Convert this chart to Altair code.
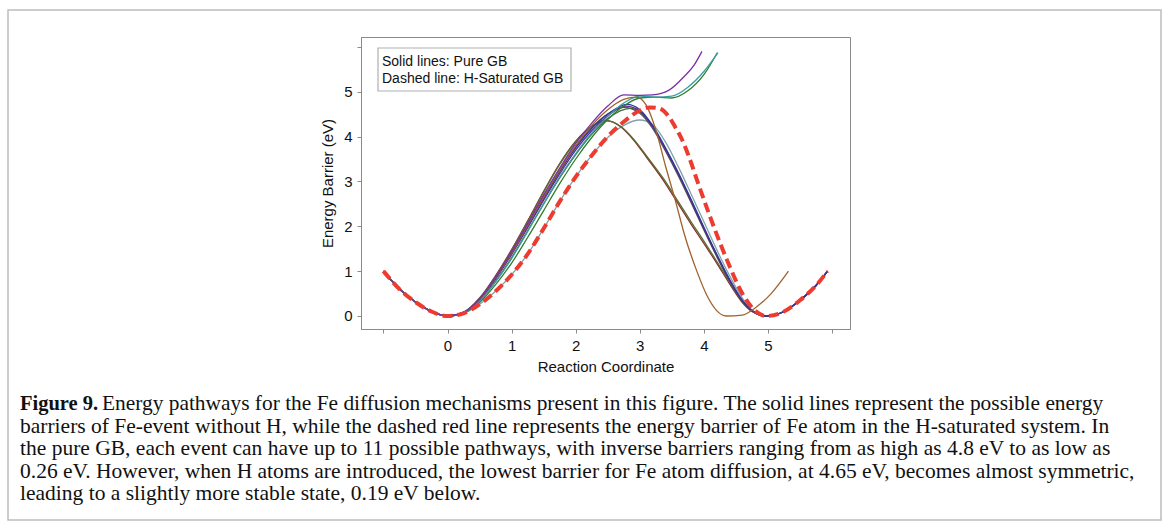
import altair as alt
import pandas as pd

# ---------------- data ----------------
LEFT_X = [-1.0, -0.75, -0.5, -0.25, 0.0]
LEFT_Y = [1.0, 0.6, 0.31, 0.1, 0.0]
RIGHT_X = [5.25, 5.5, 5.75, 5.93]
RIGHT_Y = [0.1, 0.35, 0.68, 1.0]

RISE_X = [0.25, 0.5, 0.75, 1.0, 1.25, 1.5, 1.75, 2.0, 2.25, 2.5]

purple_x = RISE_X + [2.75, 3.0, 3.2, 3.45, 3.7, 3.85, 3.97]
purple_y = [0.08, 0.38, 0.86, 1.43, 2.06, 2.7, 3.3, 3.85, 4.3, 4.68, 4.93, 4.92, 4.93, 5.03, 5.35, 5.6, 5.9]

teal_x = RISE_X + [2.75, 3.0, 3.25, 3.5, 3.75, 4.0, 4.22]
teal_y = [0.07, 0.33, 0.76, 1.28, 1.88, 2.5, 3.1, 3.62, 4.08, 4.45, 4.75, 4.9, 4.88, 4.9, 5.1, 5.45, 5.87]

green_x = RISE_X + [2.75, 3.0, 3.25, 3.5, 3.75, 4.0, 4.21]
green_y = [0.06, 0.3, 0.7, 1.18, 1.75, 2.35, 2.95, 3.5, 3.98, 4.38, 4.68, 4.86, 4.88, 4.86, 5.02, 5.38, 5.87]

brown_x = RISE_X + [2.75, 2.95, 3.1, 3.25, 3.4, 3.55, 3.7, 3.89, 4.05, 4.2, 4.35, 4.6, 4.8, 5.05, 5.32]
brown_y = [0.08, 0.37, 0.85, 1.4, 2.02, 2.65, 3.25, 3.8, 4.25, 4.6, 4.83, 4.88, 4.7, 4.15, 3.35, 2.6, 1.8, 1.0, 0.45, 0.12, 0.0, 0.02, 0.18, 0.5, 1.0]

DROP_X = [3.0, 3.2, 3.4, 3.6, 3.8, 4.0, 4.2, 4.4, 4.6, 4.75, 4.97]

navy_x = RISE_X + [2.8] + DROP_X
navy_y = [0.08, 0.37, 0.84, 1.4, 2.0, 2.62, 3.22, 3.75, 4.18, 4.5, 4.72, 4.6, 4.25, 3.75, 3.2, 2.6, 1.98, 1.38, 0.82, 0.35, 0.12, 0.0]

indigo_x = RISE_X + [2.78] + DROP_X
indigo_y = [0.08, 0.36, 0.82, 1.37, 1.97, 2.58, 3.17, 3.7, 4.13, 4.46, 4.68, 4.57, 4.22, 3.72, 3.17, 2.57, 1.95, 1.35, 0.8, 0.34, 0.12, 0.0]

gray_x = RISE_X + [2.75] + DROP_X
gray_y = [0.08, 0.37, 0.85, 1.42, 2.03, 2.66, 3.26, 3.78, 4.2, 4.5, 4.65, 4.52, 4.18, 3.68, 3.13, 2.53, 1.92, 1.33, 0.78, 0.33, 0.11, 0.0]

dkgreen_x = RISE_X + [2.85] + DROP_X
dkgreen_y = [0.07, 0.33, 0.77, 1.3, 1.9, 2.5, 3.08, 3.6, 4.05, 4.4, 4.63, 4.55, 4.22, 3.73, 3.18, 2.58, 1.96, 1.36, 0.8, 0.34, 0.12, 0.0]

steel_x = RISE_X + [2.75] + DROP_X
steel_y = [0.06, 0.26, 0.55, 0.92, 1.38, 1.95, 2.55, 3.1, 3.58, 3.98, 4.25, 4.37, 4.27, 3.88, 3.33, 2.72, 2.1, 1.48, 0.9, 0.4, 0.13, 0.0]

darkred_x = [0.25, 0.5, 0.75, 1.0, 1.25, 1.5, 1.75, 2.0, 2.25, 2.47, 2.7, 2.9, 3.1, 3.37, 3.6, 3.8, 4.0, 4.2, 4.4, 4.6, 4.75, 4.97]
darkred_y = [0.08, 0.4, 0.9, 1.48, 2.12, 2.78, 3.4, 3.9, 4.23, 4.36, 4.22, 3.93, 3.55, 3.02, 2.5, 2.05, 1.62, 1.18, 0.72, 0.3, 0.1, 0.0]

olive_x = darkred_x
olive_y = [0.08, 0.39, 0.88, 1.46, 2.1, 2.76, 3.38, 3.88, 4.22, 4.35, 4.23, 3.95, 3.58, 3.06, 2.55, 2.1, 1.67, 1.22, 0.76, 0.33, 0.11, 0.0]

dashed_x = [0.25, 0.5, 0.75, 1.0, 1.25, 1.5, 1.75, 2.0, 2.25, 2.5, 2.75, 3.0, 3.15, 3.3, 3.45, 3.55, 3.66, 3.78, 3.89, 4.1, 4.38, 4.6, 4.8, 4.97]
dashed_y = [0.06, 0.26, 0.55, 0.92, 1.38, 1.95, 2.55, 3.1, 3.58, 4.0, 4.33, 4.58, 4.65, 4.63, 4.45, 4.22, 3.93, 3.5, 3.04, 2.2, 1.18, 0.5, 0.12, 0.0]

CURVE_NAMES = ["steel", "darkred", "olive", "gray", "dkgreen", "indigo", "navy", "green", "teal", "brown", "purple"]
CURVE_COLORS = ["#7fa3ad", "#8b2f2f", "#58702e", "#555555", "#3e6b3e", "#5b2c8c", "#35359a", "#2f7f2f", "#3a9ea5", "#a0622d", "#7a2fa8"]
DASH_COLOR = "#ee3b2f"

LEGEND_LINES = ["Solid lines: Pure GB", "Dashed line: H-Saturated GB"]

X_TICKS = [-1, 0, 1, 2, 3, 4, 5, 6]
Y_TICKS = [0, 1, 2, 3, 4, 5, 6]

CAP_BOLD = "Figure 9."
CAP_LINE1 = "Energy pathways for the Fe diffusion mechanisms present in this figure. The solid lines represent the possible energy"
CAP_REST = ("barriers of Fe-event without H, while the dashed red line represents the energy barrier of Fe atom in the H-saturated system. In\n"
            "the pure GB, each event can have up to 11 possible pathways, with inverse barriers ranging from as high as 4.8 eV to as low as\n"
            "0.26 eV. However, when H atoms are introduced, the lowest barrier for Fe atom diffusion, at 4.65 eV, becomes almost symmetric,\n"
            "leading to a slightly more stable state, 0.19 eV below.")

# ---------------- build tables ----------------
series = {
    "steel": (steel_x, steel_y, True), "darkred": (darkred_x, darkred_y, True),
    "olive": (olive_x, olive_y, True), "gray": (gray_x, gray_y, True),
    "dkgreen": (dkgreen_x, dkgreen_y, True), "indigo": (indigo_x, indigo_y, True),
    "navy": (navy_x, navy_y, True), "green": (green_x, green_y, False),
    "teal": (teal_x, teal_y, False), "brown": (brown_x, brown_y, False),
    "purple": (purple_x, purple_y, False),
}
rows = []
for name in CURVE_NAMES:
    xs, ys, right = series[name]
    X = LEFT_X + xs + (RIGHT_X if right else [])
    Y = LEFT_Y + ys + (RIGHT_Y if right else [])
    for a, b in zip(X, Y):
        rows.append({"curve": name, "x": a, "y": b})
df_solid = pd.DataFrame(rows)
DX = LEFT_X + dashed_x + RIGHT_X
DY = LEFT_Y + dashed_y + RIGHT_Y
df_dash = pd.DataFrame({"x": DX, "y": DY})

SANS = "Liberation Sans"
SERIF = "Liberation Serif"

xscale = alt.Scale(domain=[-1.35, 6.28], nice=False, zero=False)
yscale = alt.Scale(domain=[-0.29, 6.22], nice=False, zero=False)
xaxis = alt.Axis(values=X_TICKS, format="d",
                 labelExpr="datum.value >= 0 && datum.value <= 5 ? datum.label : ''",
                 title="Reaction Coordinate", grid=False, tickSize=4, labelPadding=5, titlePadding=6)
yaxis = alt.Axis(values=Y_TICKS, format="d", labelExpr="datum.value <= 5 ? datum.label : ''",
                 title="Energy Barrier (eV)", grid=False, tickSize=4, labelPadding=5, titlePadding=8)

solid = alt.Chart(df_solid).mark_line(strokeWidth=1.3, interpolate="monotone").encode(
    x=alt.X("x:Q", scale=xscale, axis=xaxis),
    y=alt.Y("y:Q", scale=yscale, axis=yaxis),
    color=alt.Color("curve:N", scale=alt.Scale(domain=CURVE_NAMES, range=CURVE_COLORS), legend=None),
    detail="curve:N",
)
dashed = alt.Chart(df_dash).mark_line(strokeWidth=4, interpolate="monotone", color=DASH_COLOR,
                                      strokeDash=[10, 5]).encode(x="x:Q", y="y:Q")

one = alt.Data(values=[{"t": 0}])
border = alt.Chart(one).mark_rect(fill="transparent", stroke="#bdbdbd", strokeWidth=1.5).encode(
    x=alt.value(-353), x2=alt.value(800), y=alt.value(-27), y2=alt.value(483))

# legend box (annotation)
leg_box = alt.Chart(one).mark_rect(fill="white", stroke="#b0b0b0", strokeWidth=1.2).encode(
    x=alt.value(17), x2=alt.value(210), y=alt.value(11), y2=alt.value(54))
leg_t1 = alt.Chart(alt.Data(values=[{"t": LEGEND_LINES[0]}])).mark_text(
    font=SANS, fontSize=14, align="left", baseline="middle", color="#111").encode(
    text="t:N", x=alt.value(21), y=alt.value(24.5))
leg_t2 = alt.Chart(alt.Data(values=[{"t": LEGEND_LINES[1]}])).mark_text(
    font=SANS, fontSize=14, align="left", baseline="middle", color="#111").encode(
    text="t:N", x=alt.value(21), y=alt.value(42))

cap_bold = alt.Chart(alt.Data(values=[{"t": CAP_BOLD}])).mark_text(
    font=SERIF, fontSize=20.5, fontWeight="bold", align="left", baseline="top", color="#111").encode(
    text="t:N", x=alt.value(-341), y=alt.value(357))
cap_l1 = alt.Chart(alt.Data(values=[{"t": CAP_LINE1}])).mark_text(
    font=SERIF, fontSize=21.4, align="left", baseline="top", color="#111").encode(
    text="t:N", x=alt.value(-259), y=alt.value(356.3))
cap_rest = alt.Chart(alt.Data(values=[{"t": CAP_REST}])).mark_text(
    font=SERIF, fontSize=21.5, align="left", baseline="top", color="#111", lineBreak="\n", lineHeight=22.5).encode(
    text="t:N", x=alt.value(-341), y=alt.value(378.8))

chart = alt.layer(border, solid, dashed, leg_box, leg_t1, leg_t2, cap_bold, cap_l1, cap_rest).properties(
    width=489, height=292,
    autosize=alt.AutoSizeParams(type="none"),
    padding={"left": 361, "top": 37, "right": 318, "bottom": 200},
    background="white",
).configure_view(stroke="#8a8a8a", strokeWidth=1).configure_axis(
    domainColor="#8a8a8a", tickColor="#8a8a8a", labelFont=SANS, titleFont=SANS,
    labelFontSize=15, titleFontSize=15, labelColor="#111", titleColor="#111",
    titleFontWeight="normal",
)

chart.save("out.html", embed_options={"renderer": "svg", "actions": False})
